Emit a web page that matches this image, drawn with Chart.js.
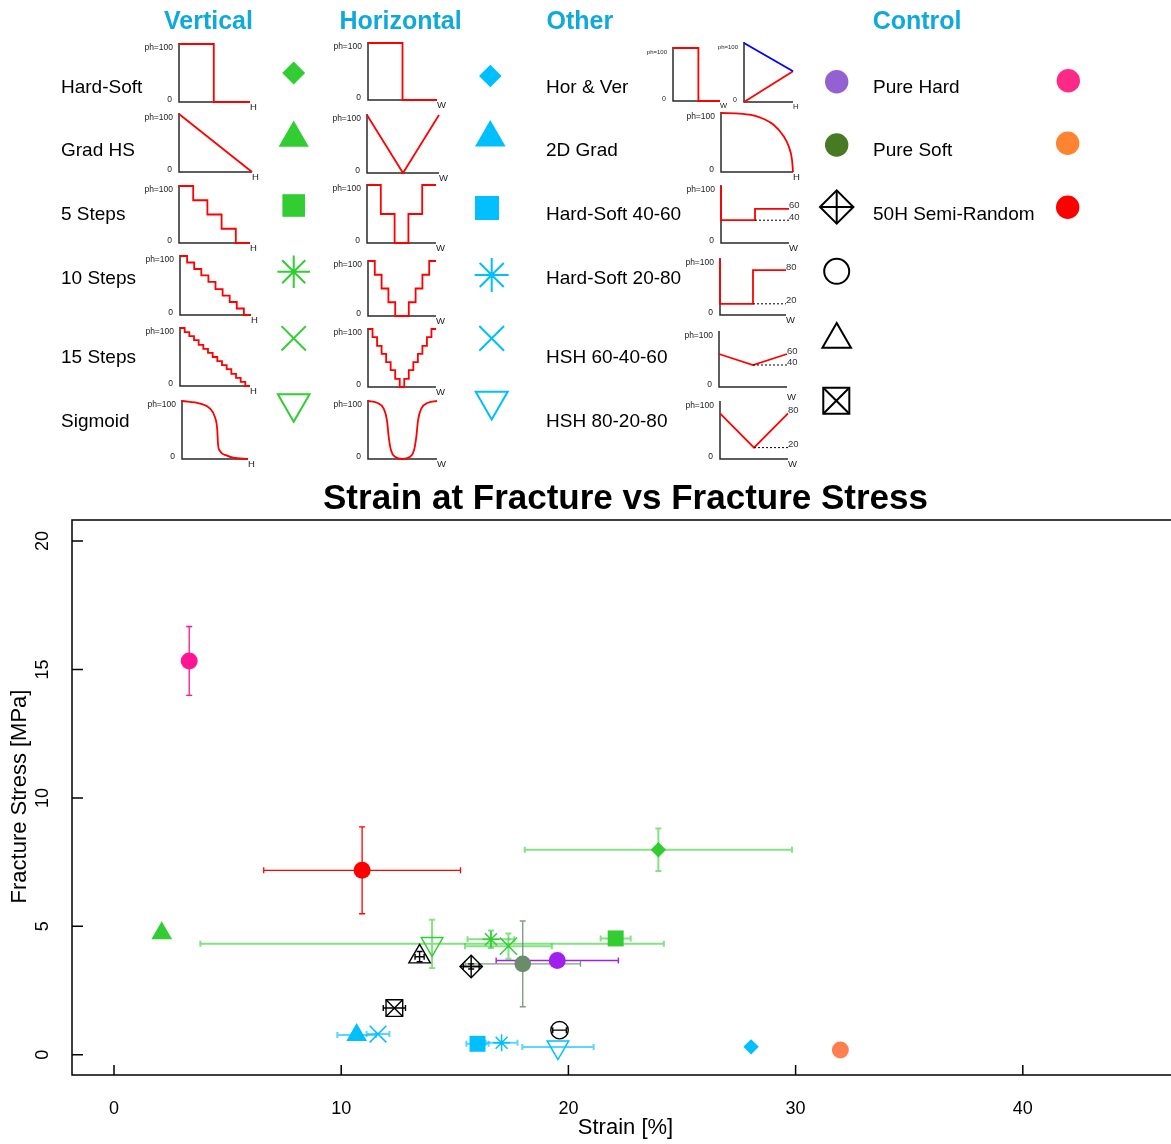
<!DOCTYPE html>
<html>
<head>
<meta charset="utf-8">
<title>Strain at Fracture vs Fracture Stress</title>
<script src="https://cdn.jsdelivr.net/npm/chart.js@4.4.1/dist/chart.umd.min.js"></script>
<style>
  html, body { margin: 0; padding: 0; background: #fff; }
  #wrap { position: relative; width: 1171px; height: 1144px; overflow: hidden; }
  #wrap canvas { position: absolute; left: 0; top: 0; }
</style>
</head>
<body>
<div id="wrap"><canvas id="main" width="1187" height="1144"></canvas></div>
<script>
// ---------- fracture results (strain in %, stress in MPa, +/- spread) ----------
const verticalNames = ['Hard-Soft', 'Grad HS', '5 Steps', '10 Steps', '15 Steps', 'Sigmoid'];
const verticalStrain = [23.96, 2.10, 22.08, 16.59, 17.36, 14.00];
const verticalStress = [7.98, 4.73, 4.53, 4.50, 4.23, 4.32];
const verticalStrainSd = [5.88, 0, 0.66, 1.03, 1.91, 10.2];
const verticalStressSd = [0.83, 0, 0, 0.34, 0.49, 0.94];

const horizontalNames = ['Hard-Soft', 'Grad HS', '5 Steps', '10 Steps', '15 Steps', 'Sigmoid'];
const horizontalStrain = [28.04, 10.68, 16.00, 17.06, 11.62, 19.54];
const horizontalStress = [0.31, 0.77, 0.43, 0.47, 0.81, 0.30];
const horizontalStrainSd = [0, 0.85, 0.49, 0.70, 0.50, 1.57];
const horizontalStressSd = [0, 0, 0, 0, 0, 0];

const otherNames = ['Hor & Ver', '2D Grad', 'Hard-Soft 40-60', 'Hard-Soft 20-80', 'HSH 60-40-60', 'HSH 80-20-80'];
const otherStrain = [19.51, 17.99, 15.72, 19.61, 13.45, 12.34];
const otherStress = [3.67, 3.54, 3.44, 0.96, 3.82, 1.82];
const otherStrainSd = [2.69, 2.54, 0.35, 0.30, 0.20, 0.49];
const otherStressSd = [0, 1.67, 0.10, 0, 0.20, 0];

const controlNames = ['Pure Hard', 'Pure Soft', '50H Semi-Random'];
const controlStrain = [3.31, 31.97, 10.92];
const controlStress = [15.33, 0.19, 7.18];
const controlStrainSd = [0, 0, 4.33];
const controlStressSd = [1.34, 0, 1.69];

const strainTicks = [0, 10, 20, 30, 40];
const stressTicks = [0, 5, 10, 15, 20];

// ---------- hardness profiles: position along H or W (%) and ph (%) ----------
const vHardSoftPos = [0, 49, 100];
const vHardSoftPh = [100, 0, 0];
const vGradPos = [0, 100];
const vGradPh = [100, 0];
const v5Pos = [0, 20, 40, 60, 80, 100];
const v5Ph = [100, 75, 50, 25, 0, 0];
const v10Pos = [0, 10, 20, 30, 40, 50, 60, 70, 80, 90, 100];
const v10Ph = [100, 89, 78, 67, 56, 44, 33, 22, 11, 0, 0];
const v15Pos = [0, 6.67, 13.33, 20, 26.67, 33.33, 40, 46.67, 53.33, 60, 66.67, 73.33, 80, 86.67, 93.33, 100];
const v15Ph = [100, 93, 86, 79, 71, 64, 57, 50, 43, 36, 29, 21, 14, 7, 0, 0];
const vSigPos = [0, 27.5, 42.5, 50, 53.5, 54.5, 57.5, 67.5, 77.5, 100];
const vSigPh = [100, 95.4, 86.8, 72, 49.4, 26.4, 13.8, 6.3, 2.3, 0];

const hHardSoftPos = [0, 50, 100];
const hHardSoftPh = [100, 0, 0];
const hGradPos = [0, 50, 100];
const hGradPh = [100, 0, 100];
const h5Pos = [0, 20, 40, 60, 80, 100];
const h5Ph = [100, 50, 0, 50, 100, 100];
const h10Pos = [0, 10, 20, 30, 40, 50, 60, 70, 80, 90, 100];
const h10Ph = [100, 75, 50, 25, 0, 0, 25, 50, 75, 100, 100];
const h15Pos = [0, 6.67, 13.33, 20, 26.67, 33.33, 40, 46.67, 53.33, 60, 66.67, 73.33, 80, 86.67, 93.33, 100];
const h15Ph = [100, 86, 71, 57, 43, 29, 14, 0, 14, 29, 43, 57, 71, 86, 100, 100];
const hSigPos = [0, 13, 22.7, 27.5, 30, 33.3, 39.6, 50, 60.4, 66.7, 70, 72.5, 77.3, 87, 100];
const hSigPh = [100, 97, 86.8, 66.7, 38, 15, 3.4, 0, 3.4, 15, 38, 66.7, 86.8, 97, 100];

const hvWidthPos = [0, 54, 100];
const hvWidthPh = [100, 0, 0];
const hvHeightPos = [0, 100];
const hvHeightTopPh = [100, 52];
const hvHeightBottomPh = [0, 52];
const grad2dPos = [0, 26.5, 49.8, 73, 87, 94, 98.6, 100];
const grad2dPh = [100, 98.9, 94.4, 80.2, 60.5, 43.5, 20.9, 0];
const hs4060Pos = [0, 0, 50, 50, 100];
const hs4060Ph = [100, 40, 40, 60, 60];
const hs4060RefPos = [50, 100];
const hs4060RefPh = [40, 40];
const hs2080Pos = [0, 0, 50, 50, 100];
const hs2080Ph = [100, 20, 20, 80, 80];
const hs2080RefPos = [50, 100];
const hs2080RefPh = [20, 20];
const hsh604060Pos = [0, 50, 100];
const hsh604060Ph = [60, 40, 60];
const hsh604060RefPos = [50, 100];
const hsh604060RefPh = [40, 40];
const hsh802080Pos = [0, 50, 100];
const hsh802080Ph = [80, 20, 80];
const hsh802080RefPos = [50, 100];
const hsh802080RefPh = [20, 20];

// ---------- styles ----------
const FONT = '"Liberation Sans", Arial, Helvetica, sans-serif';
const GREEN = '#32CD32';
const CYAN = '#00BFFF';
const RED = '#FF0000';
const HEAD = '#10A9DA';

const wrap = document.getElementById('wrap');
const pts = (xs, ys) => xs.map((x, i) => ({ x: x, y: ys[i] }));

// ---------- small profile charts in the key ----------
const miniCharts = [
  { box: [179, 44, 250, 102], letter: 'H', series: [{ pos: vHardSoftPos, ph: vHardSoftPh, step: true }] },
  { box: [179, 114, 252, 172], letter: 'H', series: [{ pos: vGradPos, ph: vGradPh }] },
  { box: [179, 186, 250, 243], letter: 'H', series: [{ pos: v5Pos, ph: v5Ph, step: true }] },
  { box: [180, 256, 251, 315], letter: 'H', series: [{ pos: v10Pos, ph: v10Ph, step: true }] },
  { box: [180, 328, 250, 386], letter: 'H', series: [{ pos: v15Pos, ph: v15Ph, step: true }] },
  { box: [182, 401, 248, 459], letter: 'H', series: [{ pos: vSigPos, ph: vSigPh, smooth: true }] },

  { box: [368, 43, 437, 100], letter: 'W', series: [{ pos: hHardSoftPos, ph: hHardSoftPh, step: true }] },
  { box: [367, 115, 439, 173], letter: 'W', series: [{ pos: hGradPos, ph: hGradPh }] },
  { box: [367, 185, 436, 243], letter: 'W', series: [{ pos: h5Pos, ph: h5Ph, step: true }] },
  { box: [368, 261, 436, 316], letter: 'W', series: [{ pos: h10Pos, ph: h10Ph, step: true }] },
  { box: [368, 329, 436, 387], letter: 'W', series: [{ pos: h15Pos, ph: h15Ph, step: true }] },
  { box: [368, 401, 437, 459], letter: 'W', series: [{ pos: hSigPos, ph: hSigPh, smooth: true }] },

  { box: [673, 48, 720, 101], letter: 'W', small: true, series: [{ pos: hvWidthPos, ph: hvWidthPh, step: true }] },
  { box: [744, 43, 793, 102], letter: 'H', small: true, series: [
      { pos: hvHeightPos, ph: hvHeightTopPh, color: '#0000FF' },
      { pos: hvHeightPos, ph: hvHeightBottomPh }] },
  { box: [721, 113, 793, 172], letter: 'H', series: [{ pos: grad2dPos, ph: grad2dPh, smooth: true }] },
  { box: [721, 186, 789, 243], letter: 'W', levels: [60, 40], series: [
      { pos: hs4060RefPos, ph: hs4060RefPh, dash: true },
      { pos: hs4060Pos, ph: hs4060Ph }] },
  { box: [720, 259, 786, 315], letter: 'W', levels: [80, 20], series: [
      { pos: hs2080RefPos, ph: hs2080RefPh, dash: true },
      { pos: hs2080Pos, ph: hs2080Ph }] },
  { box: [719, 332, 787, 387], letter: 'W', letterDy: 10, levels: [60, 40], series: [
      { pos: hsh604060RefPos, ph: hsh604060RefPh, dash: true },
      { pos: hsh604060Pos, ph: hsh604060Ph }] },
  { box: [720, 402, 788, 459], letter: 'W', levels: [80, 20], series: [
      { pos: hsh802080RefPos, ph: hsh802080RefPh, dash: true },
      { pos: hsh802080Pos, ph: hsh802080Ph }] }
];

const PAD = { left: 48, top: 10, right: 24, bottom: 16 };

const miniAxes = {
  id: 'miniAxes',
  beforeDatasetsDraw(chart, args, opts) {
    const m = opts.spec;
    const a = chart.chartArea;
    const ctx = chart.ctx;
    ctx.save();
    ctx.strokeStyle = '#2a2a2a';
    ctx.lineWidth = 1.5;
    ctx.beginPath();
    ctx.moveTo(a.left, a.top - 1);
    ctx.lineTo(a.left, a.bottom);
    ctx.lineTo(a.right, a.bottom);
    ctx.stroke();

    ctx.fillStyle = '#222';
    ctx.textBaseline = 'middle';
    ctx.textAlign = 'right';
    ctx.font = (m.small ? '6px ' : '8.5px ') + FONT;
    ctx.fillText('ph=100', a.left - 6, a.top + 4);
    ctx.font = (m.small ? '7px ' : '8.5px ') + FONT;
    ctx.fillText('0', a.left - 7, a.bottom - 2);
    ctx.textAlign = 'left';
    ctx.font = (m.small ? '7.5px ' : '9.5px ') + FONT;
    ctx.fillText(m.letter, a.right, a.bottom + (m.letterDy || 5));

    if (m.levels) {
      const y = chart.scales.y;
      ctx.font = '9.5px ' + FONT;
      ctx.fillStyle = '#333';
      m.levels.forEach(v => ctx.fillText(String(v), a.right, y.getPixelForValue(v) - 3));
    }
    ctx.restore();
  }
};

miniCharts.forEach(m => {
  const [x0, y0, x1, y1] = m.box;
  const c = document.createElement('canvas');
  c.width = x1 - x0 + PAD.left + PAD.right;
  c.height = y1 - y0 + PAD.top + PAD.bottom;
  c.style.left = (x0 - PAD.left) + 'px';
  c.style.top = (y0 - PAD.top) + 'px';
  wrap.appendChild(c);
  new Chart(c, {
    type: 'scatter',
    data: {
      datasets: m.series.map(s => ({
        data: pts(s.pos, s.ph),
        showLine: true,
        pointRadius: 0,
        borderColor: s.dash ? '#000' : (s.color || RED),
        borderWidth: s.dash ? 1 : 1.8,
        borderDash: s.dash ? [2, 2] : [],
        stepped: !!s.step,
        cubicInterpolationMode: s.smooth ? 'monotone' : 'default',
        clip: false,
        fill: false
      }))
    },
    options: {
      responsive: false,
      animation: false,
      events: [],
      layout: { padding: PAD, autoPadding: false },
      plugins: { legend: { display: false }, tooltip: { enabled: false }, miniAxes: { spec: m } },
      scales: {
        x: { type: 'linear', min: 0, max: 100, display: false },
        y: { type: 'linear', min: 0, max: 100, display: false }
      }
    },
    plugins: [miniAxes]
  });
});

// ---------- key: headers, names and markers ----------
const rowBaselines = [92.5, 156, 220, 284, 362.7, 426.7];
const headers = [['Vertical', 164], ['Horizontal', 339.5], ['Other', 546.5], ['Control', 872.7]];

const keyMarks = [
  { x: 293.7, y: 73, style: 'rectRot', r: 11.5, fill: GREEN },
  { x: 293.7, y: 138, style: 'triangle', r: 17.5, fill: GREEN },
  { x: 293.7, y: 205.5, style: 'rect', r: 16, fill: GREEN },
  { x: 293.7, y: 271.7, style: 'star', r: 16.3, line: GREEN, lw: 2 },
  { x: 293.7, y: 338.3, style: 'crossRot', r: 17.2, line: GREEN, lw: 2 },
  { x: 293.7, y: 403.5, style: 'triangle', rot: 180, r: 18.3, line: GREEN, lw: 2 },

  { x: 490.3, y: 76, style: 'rectRot', r: 11.3, fill: CYAN },
  { x: 490.3, y: 137.7, style: 'triangle', r: 17.7, fill: CYAN },
  { x: 487, y: 208, style: 'rect', r: 17, fill: CYAN },
  { x: 491.7, y: 275, style: 'star', r: 17, line: CYAN, lw: 2 },
  { x: 491.7, y: 338.3, style: 'crossRot', r: 17.5, line: CYAN, lw: 2 },
  { x: 491.7, y: 401, style: 'triangle', rot: 180, r: 18.5, line: CYAN, lw: 2 },

  { x: 836.7, y: 81.7, style: 'circle', r: 11.7, fill: '#9361D1' },
  { x: 836.7, y: 145, style: 'circle', r: 11.7, fill: '#477A22' },
  { x: 836.7, y: 207, style: 'rectRot', r: 16.7, line: '#000', lw: 2 },
  { x: 836.7, y: 207, style: 'cross', r: 16.7, line: '#000', lw: 2 },
  { x: 836.7, y: 271.3, style: 'circle', r: 12.5, line: '#000', lw: 2 },
  { x: 836.7, y: 339.5, style: 'triangle', r: 16.5, line: '#000', lw: 2 },
  { x: 836.3, y: 400.8, style: 'rect', r: 18.4, line: '#000', lw: 2 },
  { x: 836.3, y: 400.8, style: 'crossRot', r: 18.4, line: '#000', lw: 2 },

  { x: 1068.3, y: 80.7, style: 'circle', r: 11.7, fill: '#FF2A85' },
  { x: 1067.7, y: 143.3, style: 'circle', r: 11.7, fill: '#FF8430' },
  { x: 1067.7, y: 207.3, style: 'circle', r: 11.7, fill: '#FF0000' }
];

const keyPlugin = {
  id: 'keyPlugin',
  afterDraw(chart) {
    const ctx = chart.ctx;
    ctx.save();
    ctx.textAlign = 'left';
    ctx.textBaseline = 'alphabetic';
    ctx.fillStyle = HEAD;
    ctx.font = 'bold 25px ' + FONT;
    headers.forEach(([t, x]) => ctx.fillText(t, x, 29));

    ctx.fillStyle = '#000';
    ctx.font = '19px ' + FONT;
    verticalNames.forEach((t, i) => ctx.fillText(t, 61, rowBaselines[i]));
    otherNames.forEach((t, i) => ctx.fillText(t, 546, rowBaselines[i]));
    controlNames.forEach((t, i) => ctx.fillText(t, 873, rowBaselines[i]));

    keyMarks.forEach(k => {
      ctx.fillStyle = k.fill || 'rgba(0,0,0,0)';
      ctx.strokeStyle = k.line || k.fill;
      ctx.lineWidth = k.lw || 0;
      Chart.helpers.drawPoint(ctx, {
        pointStyle: k.style, radius: k.r, rotation: k.rot || 0, borderWidth: k.line ? (k.lw || 1) : 0
      }, k.x, k.y);
    });
    ctx.restore();
  }
};

// ---------- plot frame, inward ticks, axis texts ----------
const framePlugin = {
  id: 'framePlugin',
  beforeDatasetsDraw(chart) {
    const ctx = chart.ctx;
    const a = chart.chartArea;
    const xs = chart.scales.x, ys = chart.scales.y;
    ctx.save();
    ctx.strokeStyle = '#000';
    ctx.lineWidth = 1.5;
    ctx.beginPath();
    ctx.moveTo(chart.width, a.top);
    ctx.lineTo(a.left, a.top);
    ctx.lineTo(a.left, a.bottom);
    ctx.lineTo(chart.width, a.bottom);
    ctx.stroke();

    ctx.beginPath();
    stressTicks.forEach(v => {
      const y = ys.getPixelForValue(v);
      ctx.moveTo(a.left, y);
      ctx.lineTo(a.left + 11, y);
    });
    strainTicks.forEach(v => {
      const x = xs.getPixelForValue(v);
      ctx.moveTo(x, a.bottom);
      ctx.lineTo(x, a.bottom - 10);
    });
    ctx.stroke();

    ctx.fillStyle = '#000';
    ctx.font = '18px ' + FONT;
    ctx.textAlign = 'center';
    ctx.textBaseline = 'alphabetic';
    strainTicks.forEach(v => ctx.fillText(String(v), xs.getPixelForValue(v), 1114));
    stressTicks.forEach(v => {
      ctx.save();
      ctx.translate(48.3, ys.getPixelForValue(v));
      ctx.rotate(-Math.PI / 2);
      ctx.fillText(String(v), 0, 0);
      ctx.restore();
    });

    ctx.font = '22px ' + FONT;
    ctx.fillText('Strain [%]', 625.5, 1134);
    ctx.save();
    ctx.translate(26, 796.5);
    ctx.rotate(-Math.PI / 2);
    ctx.fillText('Fracture Stress [MPa]', 0, 0);
    ctx.restore();
    ctx.restore();
  }
};

// ---------- error bars ----------
const errorSets = [
  { xs: verticalStrain, ys: verticalStress, dx: verticalStrainSd, dy: verticalStressSd,
    colors: verticalStrain.map(() => 'rgba(50,205,50,0.6)'), width: 2 },
  { xs: horizontalStrain, ys: horizontalStress, dx: horizontalStrainSd, dy: horizontalStressSd,
    colors: horizontalStrain.map(() => 'rgba(0,191,255,0.65)'), width: 2 },
  { xs: otherStrain, ys: otherStress, dx: otherStrainSd, dy: otherStressSd,
    colors: ['#A020F0', 'rgba(107,140,107,0.85)', '#000', '#000', '#000', '#000'], width: 1.4 },
  { xs: controlStrain, ys: controlStress, dx: controlStrainSd, dy: controlStressSd,
    colors: ['#FF1493', '#FF7F50', '#FF0000'], width: 1.3 }
];

const errorBarPlugin = {
  id: 'errorBarPlugin',
  beforeDatasetsDraw(chart) {
    const ctx = chart.ctx;
    const sx = chart.scales.x, sy = chart.scales.y;
    const cap = 3;
    ctx.save();
    errorSets.forEach(s => {
      ctx.lineWidth = s.width;
      s.xs.forEach((xv, i) => {
        ctx.strokeStyle = s.colors[i];
        const px = sx.getPixelForValue(xv), py = sy.getPixelForValue(s.ys[i]);
        ctx.beginPath();
        if (s.dx[i] > 0) {
          const l = sx.getPixelForValue(xv - s.dx[i]), r = sx.getPixelForValue(xv + s.dx[i]);
          ctx.moveTo(l, py); ctx.lineTo(r, py);
          ctx.moveTo(l, py - cap); ctx.lineTo(l, py + cap);
          ctx.moveTo(r, py - cap); ctx.lineTo(r, py + cap);
        }
        if (s.dy[i] > 0) {
          const t = sy.getPixelForValue(s.ys[i] + s.dy[i]), b = sy.getPixelForValue(s.ys[i] - s.dy[i]);
          ctx.moveTo(px, t); ctx.lineTo(px, b);
          ctx.moveTo(px - cap, t); ctx.lineTo(px + cap, t);
          ctx.moveTo(px - cap, b); ctx.lineTo(px + cap, b);
        }
        ctx.stroke();
      });
    });
    ctx.restore();
  }
};

// ---------- main scatter ----------
const CLEAR = 'rgba(0,0,0,0)';
new Chart(document.getElementById('main'), {
  type: 'scatter',
  data: {
    datasets: [
      {
        label: 'Control',
        data: pts(controlStrain, controlStress),
        pointStyle: 'circle',
        pointRadius: 8.5,
        backgroundColor: ['#FF1493', '#FF7F50', '#FF0000'],
        borderColor: ['#FF1493', '#FF7F50', '#FF0000'],
        borderWidth: 0
      },
      {
        label: 'Other (inner marks)',
        data: pts(otherStrain, otherStress),
        pointStyle: ['circle', 'circle', 'cross', 'circle', 'circle', 'crossRot'],
        pointRadius: [0, 0, 11.2, 0, 0, 11.8],
        backgroundColor: CLEAR,
        borderColor: '#000',
        borderWidth: 1.4
      },
      {
        label: 'Other',
        data: pts(otherStrain, otherStress),
        pointStyle: ['circle', 'circle', 'rectRot', 'circle', 'triangle', 'rect'],
        pointRadius: [8.5, 8.3, 11.2, 8.7, 12.4, 11.8],
        backgroundColor: ['#A020F0', '#6B8C6B', CLEAR, CLEAR, CLEAR, CLEAR],
        borderColor: ['#A020F0', '#6B8C6B', '#000', '#000', '#000', '#000'],
        borderWidth: [0, 0, 1.4, 1.4, 1.4, 1.4]
      },
      {
        label: 'Horizontal',
        data: pts(horizontalStrain, horizontalStress),
        pointStyle: ['rectRot', 'triangle', 'rect', 'star', 'crossRot', 'triangle'],
        rotation: [0, 0, 0, 0, 0, 180],
        pointRadius: [7.7, 12, 11.3, 8.5, 11.8, 12.4],
        backgroundColor: [CYAN, CYAN, CYAN, CLEAR, CLEAR, CLEAR],
        borderColor: CYAN,
        borderWidth: [0, 0, 0, 1.5, 1.5, 1.5]
      },
      {
        label: 'Vertical',
        data: pts(verticalStrain, verticalStress),
        pointStyle: ['rectRot', 'triangle', 'rect', 'star', 'crossRot', 'triangle'],
        rotation: [0, 0, 0, 0, 0, 180],
        pointRadius: [7.7, 12, 11.3, 8.5, 12.2, 12.5],
        backgroundColor: [GREEN, GREEN, GREEN, CLEAR, CLEAR, CLEAR],
        borderColor: GREEN,
        borderWidth: [0, 0, 0, 1.5, 1.5, 1.5]
      }
    ]
  },
  options: {
    responsive: false,
    animation: false,
    events: [],
    layout: { padding: { left: 72, right: 8, top: 478, bottom: 69 }, autoPadding: false },
    plugins: {
      legend: { display: false },
      tooltip: { enabled: false },
      title: {
        display: true,
        text: 'Strain at Fracture vs Fracture Stress',
        color: '#000',
        fullSize: false,
        font: { family: FONT, size: 35, weight: 'bold' },
        padding: { top: 0, bottom: 0 }
      }
    },
    scales: {
      x: { type: 'linear', min: -1.849, max: 46.875, display: false },
      y: { type: 'linear', min: -0.785, max: 20.815, display: false }
    }
  },
  plugins: [framePlugin, errorBarPlugin, keyPlugin]
});
</script>
</body>
</html>
